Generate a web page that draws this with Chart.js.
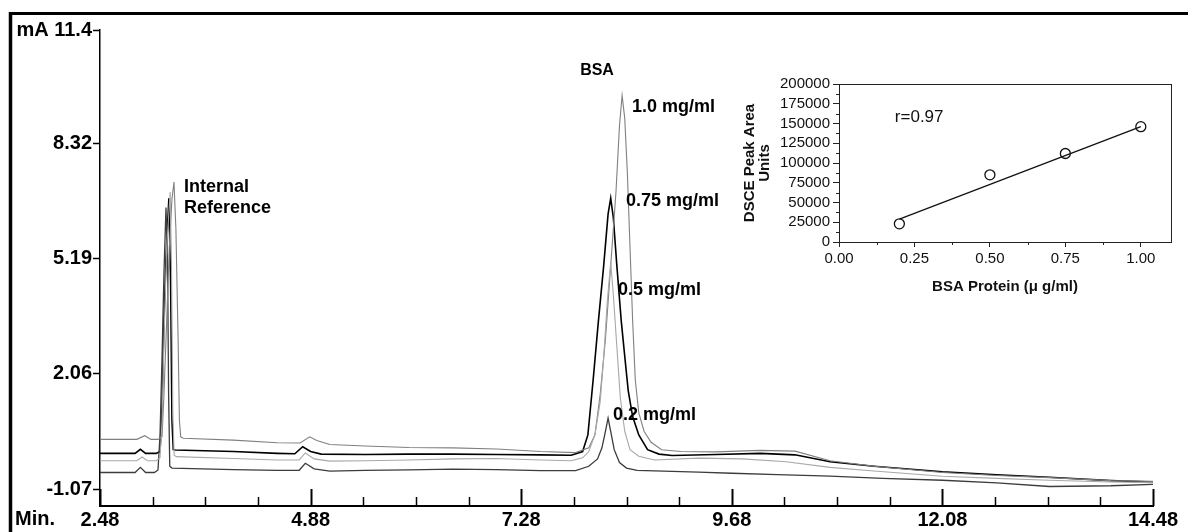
<!DOCTYPE html>
<html><head><meta charset="utf-8">
<script src="https://cdn.jsdelivr.net/npm/chart.js@4.4.1/dist/chart.umd.min.js"></script>
<style>
html,body{margin:0;padding:0;background:#fff;}
#wrap{position:relative;width:1188px;height:532px;overflow:hidden;background:#fff;}
#main{position:absolute;left:0;top:0;}
#inset{position:absolute;left:730px;top:70px;}
</style></head><body>
<div id="wrap"><canvas id="main" width="1188" height="532"></canvas><canvas id="inset" width="450" height="230"></canvas></div>
<script>
// ---------- main chromatogram data (time in min, signal in mA) ----------
const timeTicks = [2.48, 4.88, 7.28, 9.68, 12.08, 14.48];
const signalTicks = [-1.07, 2.06, 5.19, 8.32, 11.4];
const signalTickLabels = ['-1.07', '2.06', '5.19', '8.32', 'mA 11.4'];

const trace10 = [[2.48,0.28],[2.90,0.28],[2.99,0.38],[3.06,0.28],[3.14,0.28],[3.187,0.35],[3.209,1.5],[3.24,3.5],[3.27,5.5],[3.30,6.8],[3.323,7.27],[3.345,6.0],[3.37,3.0],[3.385,0.8],[3.40,0.35],[3.43,0.31],[4.00,0.26],[4.50,0.19],[4.76,0.18],[4.87,0.35],[4.95,0.25],[5.10,0.14],[5.50,0.10],[6.00,0.06],[6.50,0.05],[7.00,0.02],[7.50,-0.05],[7.90,-0.08],[8.05,0.05],[8.12,0.4],[8.18,1.5],[8.24,3.0],[8.30,5.0],[8.36,7.0],[8.40,8.8],[8.43,9.62],[8.46,9.0],[8.49,7.5],[8.52,5.5],[8.55,3.5],[8.58,1.9],[8.62,1.0],[8.68,0.5],[8.76,0.2],[8.88,0.0],[9.10,-0.05],[9.50,-0.06],[10.00,-0.02],[10.40,-0.04],[10.80,-0.30],[11.30,-0.45],[12.08,-0.62],[12.70,-0.70],[13.30,-0.76],[14.00,-0.84],[14.48,-0.86]];
const trace075 = [[2.48,-0.10],[2.88,-0.10],[2.94,0.01],[3.00,-0.10],[3.12,-0.10],[3.164,-0.05],[3.187,1.2],[3.209,3.5],[3.232,5.2],[3.265,6.83],[3.285,4.5],[3.30,0.8],[3.315,0.0],[3.34,-0.01],[4.00,-0.05],[4.50,-0.10],[4.70,-0.11],[4.79,0.08],[4.88,-0.05],[5.00,-0.12],[5.50,-0.13],[6.00,-0.12],[6.50,-0.12],[7.00,-0.13],[7.50,-0.14],[7.85,-0.15],[7.98,-0.05],[8.04,0.4],[8.10,1.9],[8.16,3.5],[8.22,5.0],[8.27,6.4],[8.30,6.83],[8.33,6.3],[8.37,5.0],[8.42,3.5],[8.47,2.3],[8.50,1.6],[8.55,0.9],[8.62,0.4],[8.72,0.0],[8.85,-0.12],[9.00,-0.16],[9.50,-0.13],[10.00,-0.10],[10.40,-0.14],[10.80,-0.33],[11.30,-0.45],[12.08,-0.60],[12.70,-0.68],[13.30,-0.75],[14.00,-0.84],[14.48,-0.88]];
const trace05 = [[2.48,-0.30],[2.90,-0.30],[2.96,-0.20],[3.02,-0.30],[3.12,-0.30],[3.164,-0.22],[3.187,0.8],[3.209,3.0],[3.24,5.5],[3.28,7.0],[3.295,5.0],[3.31,1.0],[3.325,-0.15],[3.35,-0.19],[4.00,-0.24],[4.50,-0.28],[4.75,-0.28],[4.82,-0.09],[4.92,-0.25],[5.10,-0.31],[5.50,-0.30],[6.00,-0.28],[6.50,-0.25],[7.00,-0.24],[7.50,-0.28],[7.85,-0.30],[7.98,-0.22],[8.05,-0.05],[8.12,0.4],[8.18,1.3],[8.22,2.5],[8.26,4.0],[8.30,5.1],[8.33,4.2],[8.37,2.8],[8.41,1.4],[8.46,0.5],[8.52,0.0],[8.62,-0.18],[8.80,-0.28],[9.30,-0.23],[9.80,-0.25],[10.30,-0.33],[10.80,-0.48],[11.30,-0.58],[12.08,-0.72],[12.70,-0.78],[13.30,-0.83],[14.00,-0.88],[14.48,-0.90]];
const trace02 = [[2.48,-0.62],[2.88,-0.62],[2.94,-0.48],[3.00,-0.62],[3.10,-0.62],[3.141,-0.55],[3.164,0.4],[3.187,2.5],[3.209,4.8],[3.232,6.58],[3.250,5.0],[3.262,1.5],[3.275,-0.45],[3.30,-0.50],[4.00,-0.54],[4.50,-0.56],[4.75,-0.56],[4.82,-0.37],[4.92,-0.52],[5.10,-0.58],[5.50,-0.56],[6.00,-0.55],[6.50,-0.53],[7.00,-0.54],[7.50,-0.57],[7.90,-0.57],[8.05,-0.45],[8.15,-0.25],[8.20,0.05],[8.24,0.5],[8.27,0.86],[8.30,0.5],[8.34,0.0],[8.40,-0.35],[8.48,-0.50],[8.60,-0.56],[9.30,-0.61],[9.68,-0.64],[10.20,-0.68],[10.80,-0.72],[11.40,-0.78],[12.08,-0.83],[12.70,-0.90],[13.30,-1.00],[14.00,-0.98],[14.48,-0.94]];

// ---------- inset calibration data ----------
const bsaConc = [0.2, 0.5, 0.75, 1.0];
const peakArea = [23000, 85000, 112000, 146000];
const fitConc = [0.2, 1.0];
const fitArea = [29000, 146000];
const insetXTicks = [0, 0.25, 0.5, 0.75, 1.0];

// ---------- annotations (data coordinates) ----------
const annotations = [
  {text:'BSA', t:8.144, v:10.31, align:'center', size:16},
  {text:'1.0 mg/ml', t:8.543, v:9.31, align:'left', size:18},
  {text:'0.75 mg/ml', t:8.474, v:6.75, align:'left', size:18},
  {text:'0.5 mg/ml', t:8.383, v:4.33, align:'left', size:18},
  {text:'0.2 mg/ml', t:8.326, v:0.94, align:'left', size:18},
  {text:'Internal', t:3.437, v:7.13, align:'left', size:18},
  {text:'Reference', t:3.437, v:6.56, align:'left', size:18}
];

const FONT = "'Liberation Sans', Arial, sans-serif";
const toXY = arr => arr.map(p => ({x: p[0], y: p[1]}));

const framePlugin = {
  id: 'frame',
  beforeDraw(chart) {
    const c = chart.ctx;
    c.save();
    c.fillStyle = '#fff';
    c.fillRect(0, 0, chart.width, chart.height);
    c.strokeStyle = '#000';
    c.lineWidth = 3;
    c.beginPath(); c.moveTo(9, 13.5); c.lineTo(chart.width, 13.5); c.stroke();
    c.lineWidth = 3.5;
    c.beginPath(); c.moveTo(10.5, 12); c.lineTo(10.5, chart.height); c.stroke();
    c.restore();
  }
};

const inwardTicks = {
  id: 'inwardTicks',
  afterDraw(chart) {
    const x = chart.scales.x, c = chart.ctx, b = chart.chartArea.bottom;
    c.save();
    c.strokeStyle = '#000';
    for (let k = 0; k <= 20; k++) {
      const v = 2.48 + 0.6 * k;
      const px = Math.round(x.getPixelForValue(v)) + 0.5;
      const major = k % 4 === 0;
      c.lineWidth = major ? 2 : 1.5;
      c.beginPath(); c.moveTo(px, b); c.lineTo(px, b - (major ? 17 : 9)); c.stroke();
    }
    c.font = 'bold 20px ' + FONT;
    c.fillStyle = '#000';
    c.textBaseline = 'middle';
    c.textAlign = 'left';
    c.fillText('Min.', 15, 519);
    c.restore();
  }
};

const labelPlugin = {
  id: 'labels',
  afterDatasetsDraw(chart) {
    const x = chart.scales.x, y = chart.scales.y, c = chart.ctx;
    c.save();
    c.fillStyle = '#000';
    c.textBaseline = 'middle';
    annotations.forEach(a => {
      c.font = 'bold ' + a.size + 'px ' + FONT;
      c.textAlign = a.align;
      c.fillText(a.text, x.getPixelForValue(a.t), y.getPixelForValue(a.v));
    });
    c.restore();
  }
};

new Chart(document.getElementById('main'), {
  type: 'scatter',
  data: {
    datasets: [
      {label:'0.5 mg/ml', data: toXY(trace05), borderColor:'#a8a8a8', borderWidth:1.1},
      {label:'1.0 mg/ml', data: toXY(trace10), borderColor:'#808080', borderWidth:1.1},
      {label:'0.2 mg/ml', data: toXY(trace02), borderColor:'#3c3c3c', borderWidth:1.3},
      {label:'0.75 mg/ml', data: toXY(trace075), borderColor:'#000000', borderWidth:1.6}
    ].map(d => Object.assign(d, {showLine:true, pointRadius:0, tension:0, fill:false}))
  },
  options: {
    responsive: false, animation: false, devicePixelRatio: 1,
    layout: {padding: {left: 10, top: 30, right: 35, bottom: 0}},
    plugins: {legend: {display: false}, tooltip: {enabled: false}},
    scales: {
      x: {
        type: 'linear', min: 2.48, max: 14.48,
        afterBuildTicks: s => { s.ticks = timeTicks.map(v => ({value: v})); },
        afterFit: s => { s.height = 26; },
        grid: {drawOnChartArea: false, drawTicks: false},
        border: {display: true, color: '#000', width: 2},
        ticks: {autoSkip: false, maxRotation: 0, padding: 2, color: '#000',
          font: {family: FONT, size: 20, weight: 'bold'},
          callback: v => Number(v).toFixed(2)}
      },
      y: {
        type: 'linear', min: -1.53, max: 11.4,
        afterBuildTicks: s => { s.ticks = signalTicks.map(v => ({value: v})); },
        afterFit: s => { s.width = 90; },
        grid: {drawOnChartArea: false, drawTicks: true, tickLength: 7, color: '#000', tickWidth: 1.5},
        border: {display: true, color: '#000', width: 1.5},
        ticks: {autoSkip: false, padding: 1, color: '#000',
          font: {family: FONT, size: 20, weight: 'bold'},
          callback: (v, i) => signalTickLabels[i]}
      }
    }
  },
  plugins: [framePlugin, inwardTicks, labelPlugin]
});

// ---------- inset ----------
const boxPlugin = {
  id: 'box',
  beforeDatasetsDraw(chart) {
    const a = chart.chartArea, c = chart.ctx;
    c.save();
    c.strokeStyle = '#222'; c.lineWidth = 1;
    c.strokeRect(Math.round(a.left) + 0.5, Math.round(a.top) + 0.5, Math.round(a.right - a.left), Math.round(a.bottom - a.top));
    // minor ticks
    const x = chart.scales.x, y = chart.scales.y;
    for (let v = 12500; v < 200000; v += 25000) {
      const py = Math.round(y.getPixelForValue(v)) + 0.5;
      c.beginPath(); c.moveTo(a.left, py); c.lineTo(a.left - 3, py); c.stroke();
    }
    for (let v = 0.125; v < 1.1; v += 0.25) {
      const px = Math.round(x.getPixelForValue(v)) + 0.5;
      c.beginPath(); c.moveTo(px, a.bottom); c.lineTo(px, a.bottom + 3); c.stroke();
    }
    c.fillStyle = '#111';
    c.font = '17px ' + FONT;
    c.textAlign = 'left'; c.textBaseline = 'middle';
    c.fillText('r=0.97', x.getPixelForValue(0.185), y.getPixelForValue(158000));
    c.restore();
  }
};

new Chart(document.getElementById('inset'), {
  type: 'scatter',
  data: {
    datasets: [
      {label:'fit', data: fitConc.map((v, i) => ({x: v, y: fitArea[i]})), showLine: true,
        borderColor: '#111', borderWidth: 1.3, pointRadius: 0},
      {label:'BSA', data: bsaConc.map((v, i) => ({x: v, y: peakArea[i]})), showLine: false,
        pointRadius: 5, pointBorderWidth: 1.3, pointBorderColor: '#111', pointBackgroundColor: '#fff'}
    ]
  },
  options: {
    responsive: false, animation: false, devicePixelRatio: 1,
    layout: {padding: {left: 0, top: 14, right: 9, bottom: 0}},
    plugins: {legend: {display: false}, tooltip: {enabled: false}},
    scales: {
      x: {
        type: 'linear', min: 0, max: 1.1,
        afterBuildTicks: s => { s.ticks = insetXTicks.map(v => ({value: v})); },
        afterFit: s => { s.height = 58; },
        grid: {drawOnChartArea: false, tickLength: 5, color: '#222'},
        border: {color: '#222', width: 1},
        ticks: {autoSkip: false, maxRotation: 0, padding: 3, color: '#111',
          font: {family: FONT, size: 15}, callback: v => Number(v).toFixed(2)},
        title: {display: true, text: 'BSA Protein (μ g/ml)', color: '#111',
          font: {family: FONT, size: 15, weight: 'bold'}, padding: {top: 4, bottom: 4}}
      },
      y: {
        type: 'linear', min: 0, max: 200000,
        afterFit: s => { s.width = 109; },
        grid: {drawOnChartArea: false, tickLength: 6, color: '#222'},
        border: {color: '#222', width: 1},
        ticks: {stepSize: 25000, autoSkip: false, padding: 3, color: '#111',
          font: {family: FONT, size: 15}, callback: v => String(v)},
        title: {display: true, text: ['DSCE Peak Area', 'Units'], color: '#111',
          font: {family: FONT, size: 15, weight: 'bold', lineHeight: 1}, padding: {top: 12, bottom: 4}}
      }
    }
  },
  plugins: [boxPlugin]
});
</script>
</body></html>
